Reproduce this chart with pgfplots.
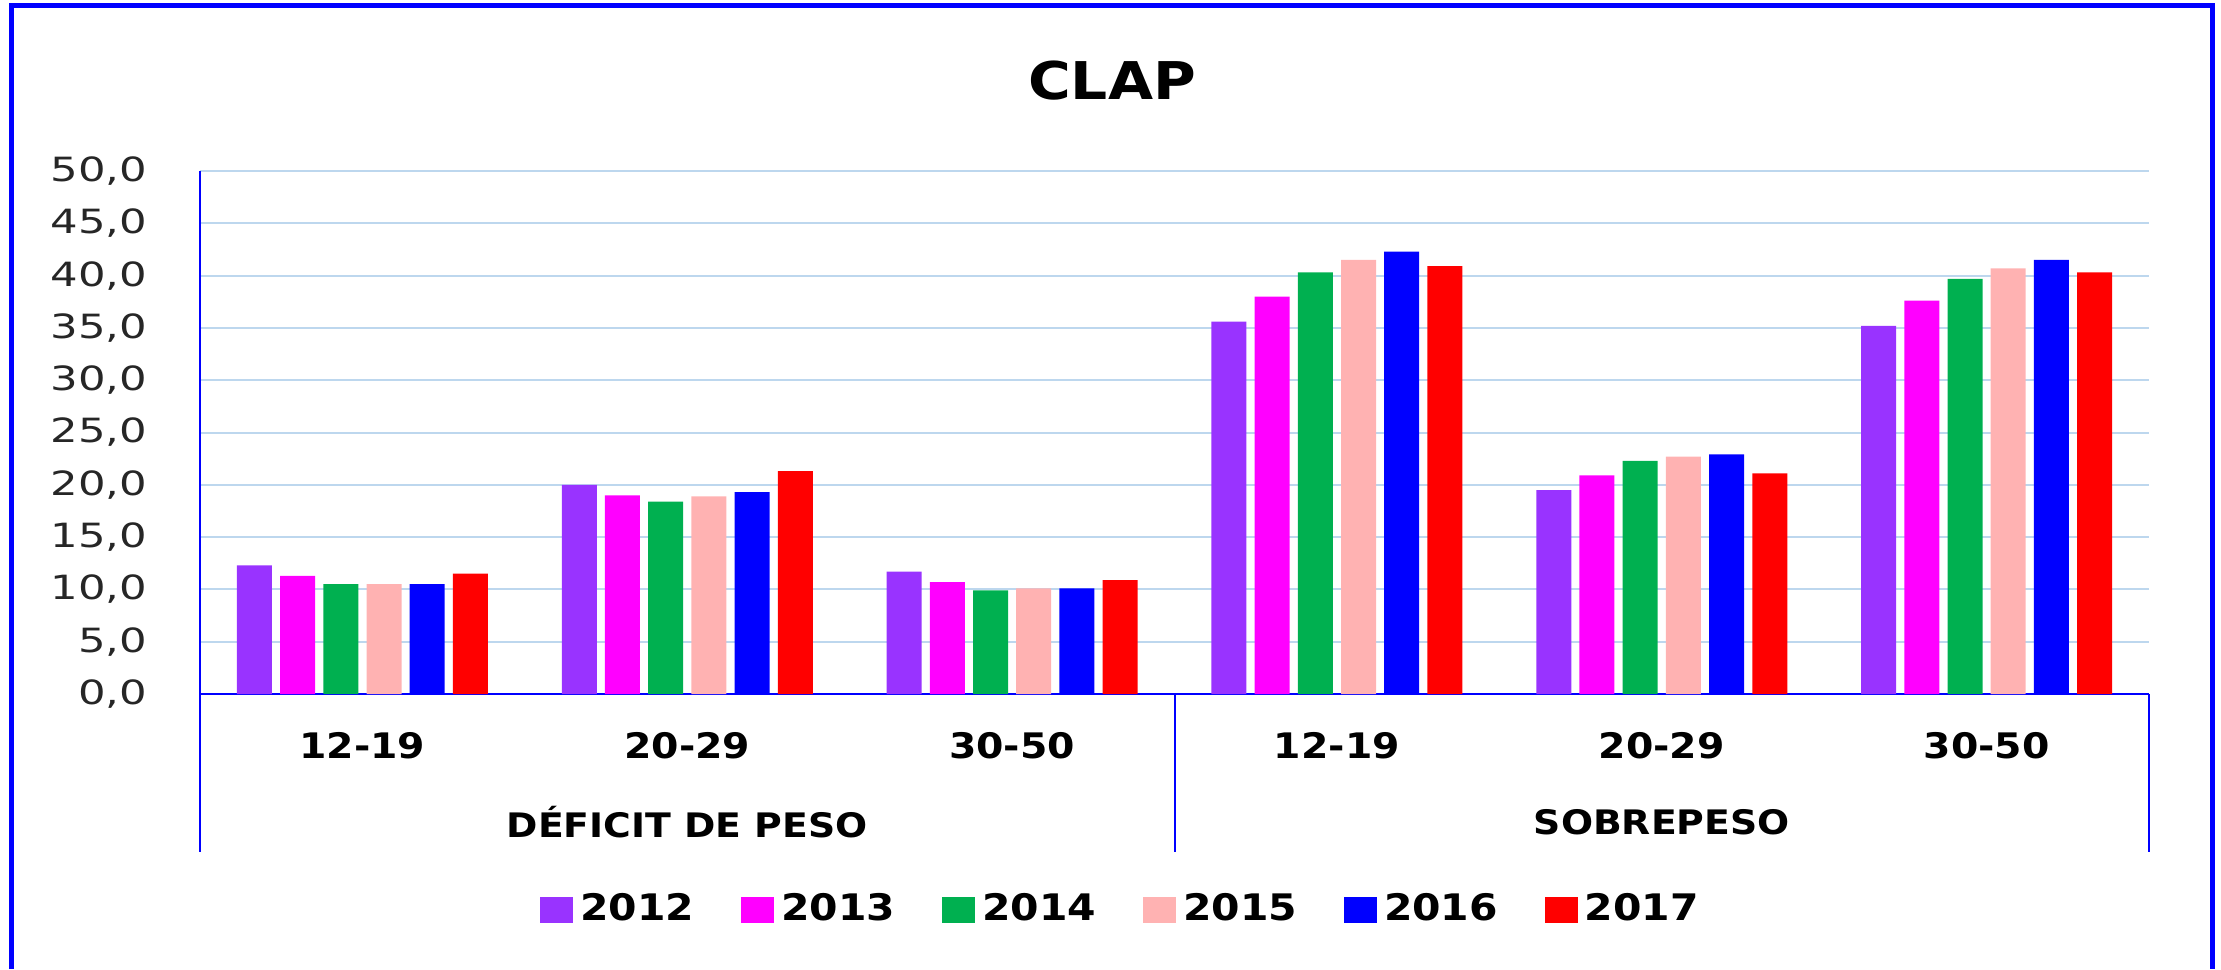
\documentclass[border=0pt]{standalone}
\usepackage{pgfplots}
\pgfplotsset{compat=1.18}
\usepackage{pgfplotstable}
\usepackage{fontspec}
\setmainfont[FakeStretch=1.12]{DejaVu Sans}
\newfontfamily\tickfont[FakeStretch=1.3]{DejaVu Sans}
\definecolor{c12}{RGB}{153,51,255}
\definecolor{c13}{RGB}{255,0,255}
\definecolor{c14}{RGB}{0,176,80}
\definecolor{c15}{RGB}{255,178,178}
\definecolor{c16}{RGB}{0,0,255}
\definecolor{c17}{RGB}{255,0,0}
\definecolor{gridc}{RGB}{189,215,238}
\definecolor{txt}{RGB}{38,38,38}

\pgfplotstableread{
x a b c d e f
0 12.3 11.3 10.5 10.5 10.5 11.5
1 20.0 19.0 18.4 18.9 19.3 21.3
2 11.7 10.7 9.9 10.1 10.1 10.9
3 35.6 38.0 40.3 41.5 42.3 40.9
4 19.5 20.9 22.3 22.7 22.9 21.1
5 35.2 37.6 39.7 40.7 41.5 40.3
}\datatable

\begin{document}
\begin{tikzpicture}
\path[use as bounding box] (0,0) rectangle (22.21cm,9.69cm);
\draw[c16, line width=0.05cm] (0.11cm,0) -- (0.11cm,9.63cm) -- (22.12cm,9.63cm) -- (22.12cm,0);
\node[font=\fontsize{14.8}{16}\selectfont\bfseries] at (11.12cm,8.88cm) {CLAP};
\begin{axis}[
  at={(2.00cm,2.75cm)}, anchor=south west, scale only axis,
  width=19.49cm, height=5.23cm,
  ymin=0, ymax=50, ytick={0,5,...,50},
  xmin=-0.5, xmax=5.5, xtick={0,...,5},
  xticklabels={12-19,20-29,30-50,12-19,20-29,30-50},
  axis x line*=bottom, axis y line*=left,
  axis line style={c16, line width=0.02cm},
  major tick length=0pt,
  ymajorgrids, grid style={gridc, line width=0.02cm},
  ybar=0.082cm, bar width=0.35cm,
  clip=false,
  yticklabel style={font=\tickfont\fontsize{9.5}{11}\selectfont, text=txt, anchor=east, inner sep=0pt, xshift=-0.52cm,
    /pgf/number format/fixed, /pgf/number format/fixed zerofill, /pgf/number format/precision=1,
    /pgf/number format/use comma, /pgf/number format/assume math mode=true},
  xticklabel style={font=\fontsize{10}{12}\selectfont\bfseries, anchor=center, yshift=-0.52cm},
  legend columns=6,
  legend style={at={(axis description cs:0.4736,-0.413)}, anchor=center, draw=none,
    font=\fontsize{10.4}{12}\selectfont\bfseries, nodes={inner sep=0.07cm},
    /tikz/every even column/.append style={column sep=0.4cm}},
]
\addplot[fill=c12, draw=none, legend image code/.code={\fill[c12] (0cm,-0.13cm) rectangle (0.33cm,0.13cm);}] table[x=x,y=a]{\datatable};
\addplot[fill=c13, draw=none, legend image code/.code={\fill[c13] (0cm,-0.13cm) rectangle (0.33cm,0.13cm);}] table[x=x,y=b]{\datatable};
\addplot[fill=c14, draw=none, legend image code/.code={\fill[c14] (0cm,-0.13cm) rectangle (0.33cm,0.13cm);}] table[x=x,y=c]{\datatable};
\addplot[fill=c15, draw=none, legend image code/.code={\fill[c15] (0cm,-0.13cm) rectangle (0.33cm,0.13cm);}] table[x=x,y=d]{\datatable};
\addplot[fill=c16, draw=none, legend image code/.code={\fill[c16] (0cm,-0.13cm) rectangle (0.33cm,0.13cm);}] table[x=x,y=e]{\datatable};
\addplot[fill=c17, draw=none, legend image code/.code={\fill[c17] (0cm,-0.13cm) rectangle (0.33cm,0.13cm);}] table[x=x,y=f]{\datatable};
\legend{2012,2013,2014,2015,2016,2017}
\draw[c16, line width=0.02cm] (axis cs:-0.5,0) -- ([yshift=-1.58cm]axis cs:-0.5,0);
\draw[c16, line width=0.02cm] (axis cs:2.5,0) -- ([yshift=-1.58cm]axis cs:2.5,0);
\draw[c16, line width=0.02cm] (axis cs:5.5,0) -- ([yshift=-1.58cm]axis cs:5.5,0);
\node[font=\fontsize{9.6}{11}\selectfont\bfseries] at ([yshift=-1.28cm]axis cs:1,0) {DÉFICIT DE PESO};
\node[font=\fontsize{9.6}{11}\selectfont\bfseries] at ([yshift=-1.28cm]axis cs:4,0) {SOBREPESO};
\end{axis}
\end{tikzpicture}
\end{document}
